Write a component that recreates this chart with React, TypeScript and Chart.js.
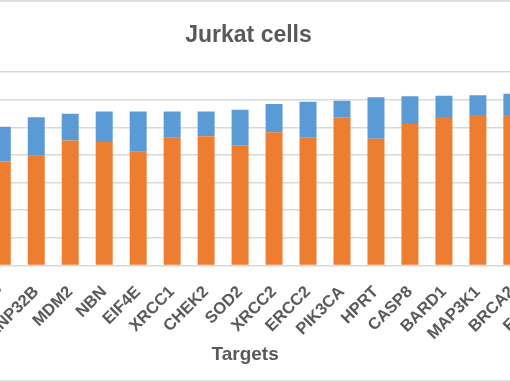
import { useEffect, useRef } from 'react';
import { Chart, registerables } from 'chart.js';

Chart.register(...registerables);

// ---- data ----
const categories = ['XIAP', 'ANP32B', 'MDM2', 'NBN', 'EIF4E', 'XRCC1', 'CHEK2', 'SOD2', 'XRCC2', 'ERCC2', 'PIK3CA', 'HPRT', 'CASP8', 'BARD1', 'MAP3K1', 'BRCA2', 'ERCC1'];
const orangeValues: (number | null)[] = [37.6, 39.7, 45.2, 44.7, 41.1, 46.2, 46.7, 43.5, 48.2, 46.2, 53.6, 45.8, 51.2, 53.7, 54.4, 54.4, null];
const blueValues: (number | null)[] = [12.6, 13.9, 9.7, 11.0, 14.6, 9.5, 9.0, 12.8, 10.2, 13.0, 6.0, 15.1, 10.0, 7.7, 7.2, 7.7, null];
const yTickValues = [0, 10, 20, 30, 40, 50, 60, 70];

// ---- layout (view is a crop of a wider chart) ----
const CANVAS_LEFT = -80;
const CANVAS_WIDTH = 657;
const CANVAS_HEIGHT = 382;
const X_MIN = -2.422;
const X_MAX = 16.72;

const TEXT = '#595959';
const GRID = '#d9d9d9';
const FONT = "'Liberation Sans', Arial, sans-serif";

export default function App() {
  const ref = useRef<HTMLCanvasElement | null>(null);

  useEffect(() => {
    document.body.style.margin = '0';
    const canvas = ref.current;
    if (!canvas) return;
    const chart = new Chart(canvas, {
      type: 'bar',
      data: {
        datasets: [
          {
            label: 'Series 1',
            data: categories.map((_, i) => ({ x: i, y: orangeValues[i] })) as any,
            backgroundColor: '#ED7D31',
            borderWidth: 0,
          },
          {
            label: 'Series 2',
            data: categories.map((_, i) => ({ x: i, y: blueValues[i] })) as any,
            backgroundColor: '#5B9BD5',
            borderWidth: 0,
          },
        ],
      },
      options: {
        responsive: false,
        animation: false,
        devicePixelRatio: 1,
        layout: { padding: 0 },
        datasets: { bar: { categoryPercentage: 1, barPercentage: 0.5 } },
        plugins: {
          legend: { display: false },
          tooltip: { enabled: false },
          title: {
            display: true,
            text: 'Jurkat cells',
            color: TEXT,
            font: { family: FONT, size: 23, weight: 'bold' },
            padding: { top: 21.7, bottom: 22.7 },
          },
        },
        scales: {
          x: {
            type: 'linear',
            min: X_MIN,
            max: X_MAX,
            stacked: true,
            offset: false,
            grid: { display: false, drawTicks: false },
            border: { display: false },
            afterBuildTicks: (scale: any) => {
              scale.ticks = categories.map((_, i) => ({ value: i }));
            },
            afterFit: (scale: any) => {
              scale.height = CANVAS_HEIGHT - 265.4;
            },
            ticks: {
              autoSkip: false,
              maxRotation: 45,
              minRotation: 45,
              padding: 17,
              color: TEXT,
              font: { family: FONT, size: 16.5, weight: 'bold' },
              callback: (value: any) => categories[value as number] ?? '',
            },
            title: {
              display: true,
              text: 'Targets',
              color: TEXT,
              font: { family: FONT, size: 19, weight: 'bold' },
              padding: { top: 0, bottom: 15.6 },
            },
          },
          y: {
            position: 'right',
            stacked: true,
            min: 0,
            max: 70,
            afterBuildTicks: (scale: any) => {
              scale.ticks = yTickValues.map((v) => ({ value: v }));
            },
            afterFit: (scale: any) => {
              scale.width = 4.2;
            },
            ticks: { display: false },
            grid: { color: GRID, lineWidth: 1.5, drawTicks: false },
            border: { display: false },
          },
        },
      },
    });
    return () => chart.destroy();
  }, []);

  return (
    <div style={{ position: 'fixed', left: 0, top: 0, width: 510, height: 382, overflow: 'hidden', background: '#fff' }}>
      <canvas
        ref={ref}
        width={CANVAS_WIDTH}
        height={CANVAS_HEIGHT}
        style={{ position: 'absolute', left: CANVAS_LEFT, top: 0, width: CANVAS_WIDTH, height: CANVAS_HEIGHT }}
      />
      <div style={{ position: 'absolute', left: 0, top: 0, width: 510, height: 2, background: '#dedede' }} />
      <div style={{ position: 'absolute', left: 0, bottom: 0, width: 510, height: 2, background: '#dedede' }} />
    </div>
  );
}
